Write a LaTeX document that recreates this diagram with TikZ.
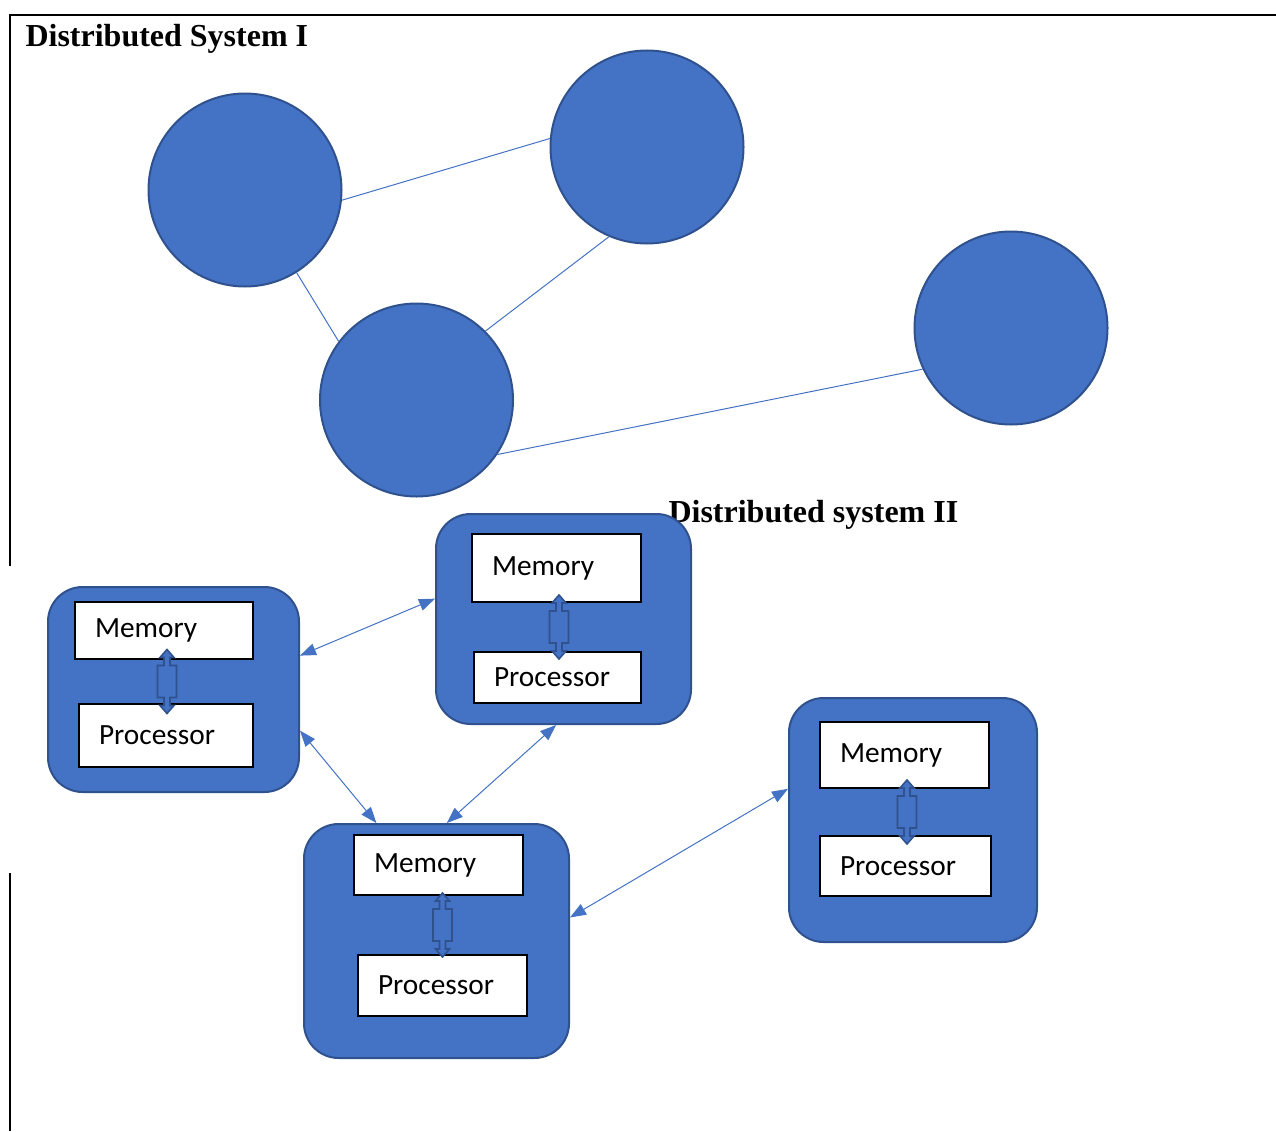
\documentclass[tikz,border=0pt]{standalone}
\usepackage{fontspec}
\setmainfont{Liberation Serif}
\newfontfamily\calibri{Carlito}
\usetikzlibrary{arrows.meta,calc}

\definecolor{nodeblue}{RGB}{68,114,196}
\definecolor{rimblue}{RGB}{47,82,143}

\tikzset{every picture/.style={line width=0.75pt}}
\tikzset{
  site/.style={circle,draw=rimblue,fill=nodeblue,line width=1.5pt,minimum size=144.75pt,inner sep=0pt},
  wire/.style={draw=nodeblue,line width=0.75pt},
  machine/.style={draw=rimblue,fill=nodeblue,line width=1.5pt,rounded corners=26pt,inner sep=0pt},
  unit/.style={draw=black,fill=white,line width=1.5pt,inner xsep=15pt,inner ysep=0pt,text width=#1,align=left,font=\calibri\fontsize{22}{26}\selectfont},
  bus/.style={draw=rimblue,fill=nodeblue,line width=1.2pt},
  msg/.style={draw=nodeblue,line width=0.75pt,{Triangle[length=12pt,width=9pt]}-{Triangle[length=12pt,width=9pt]}},
  heading/.style={anchor=base west,inner sep=0pt,font=\bfseries\fontsize{24}{28}\selectfont}
}

% memory <-> processor link inside one machine
\newcommand{\cpulink}[2]{%
  \draw[bus] ($(#1.south)!0.5!(#2.north)+(2,0)$) ++(0,-32) -- ++(7,8) -- ++(-4,0) -- ++(0,8) -- ++(6.5,0) -- ++(0,32) -- ++(-6.5,0) -- ++(0,8) -- ++(4,0) -- ++(-7,8) -- ++(-7,-8) -- ++(4,0) -- ++(0,-8) -- ++(-6.5,0) -- ++(0,-32) -- ++(6.5,0) -- ++(0,-8) -- ++(-4,0) -- cycle;}

\begin{document}
\begin{tikzpicture}[x=0.75pt,y=0.75pt,yscale=-1,xscale=1]
\useasboundingbox (0,0) rectangle (1276,1131);

%Page frame
\draw [line width=1.5pt] (1276,15) -- (10,15) -- (10,566) ;
\draw [line width=1.5pt] (10,873) -- (10,1131) ;

% Text Node
\node [heading] (t1) at (25,47) {Distributed System I};

%Sites of system I
\node [site] (c1) at (245,190) {};
\node [site] (c2) at (647,147) {};
\node [site] (c3) at (416.5,400) {};
\node [site] (c4) at (1011,328) {};
\draw [wire] (c1.-6) -- (c2.175) ;
\draw [wire] (c1.-58) -- (c3.143) ;
\draw [wire] (c2.-113) -- (c3.45) ;
\draw [wire] (c3.-34) -- (c4.-155) ;

% Text Node
\node [heading] (t2) at (668,522) {Distributed system II};

%Machines of system II
\node [machine,minimum width=188.25pt,minimum height=153.75pt] (b1) at (173.5,689.5) {};
\node [machine,minimum width=191.25pt,minimum height=157.5pt] (b2) at (563.5,619) {};
\node [machine,minimum width=198.75pt,minimum height=175.5pt] (b3) at (436.5,941) {};
\node [machine,minimum width=186pt,minimum height=183pt] (b4) at (913,820) {};

\node [unit=103.5pt,minimum height=42.75pt] (m1) at (164,630.5) {Memory};
\node [unit=100.5pt,minimum height=47.25pt] (p1) at (166,735.5) {Processor};
\node [unit=96.75pt,minimum height=51pt] (m2) at (556.5,568) {Memory};
\node [unit=95.25pt,minimum height=38.25pt] (p2) at (557.5,677.5) {Processor};
\node [unit=96.75pt,minimum height=45pt] (m3) at (438.5,865) {Memory};
\node [unit=96.75pt,minimum height=45.75pt] (p3) at (442.5,985.5) {Processor};
\node [unit=96.75pt,minimum height=49.5pt] (m4) at (904.5,755) {Memory};
\node [unit=98.25pt,minimum height=45pt] (p4) at (905.5,866) {Processor};

\cpulink{m1}{p1}
\cpulink{m2}{p2}
\cpulink{m3}{p3}
\cpulink{m4}{p4}

%Messages between machines
\draw [msg] (b1.15) -- (b2.171) ;
\draw [msg] (b1.-18) -- (b3.117) ;
\draw [msg] (b2.-94) -- (b3.85) ;
\draw [msg] (b3.10) -- (b4.166) ;

\end{tikzpicture}
\end{document}
